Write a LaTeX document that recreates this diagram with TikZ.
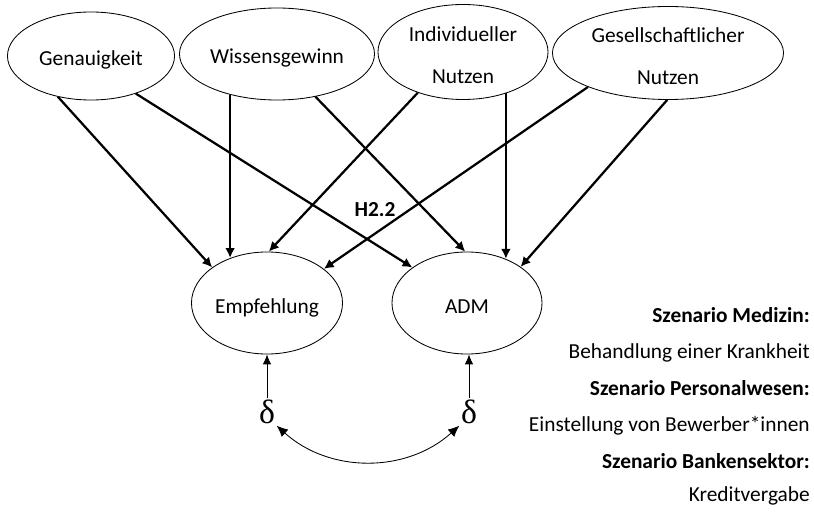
\documentclass[tikz,border=0pt]{standalone}
\usepackage{fontspec}
\setmainfont{Carlito}
\newfontfamily\deltafont{Liberation Serif}
\usetikzlibrary{arrows.meta}
\usetikzlibrary{shapes.geometric}

\begin{document}
\begin{tikzpicture}[x=0.025cm, y=-0.025cm,
  construct/.style={ellipse, draw, line width=0.6pt, inner sep=0pt, align=center, text depth=0pt, font=\fontsize{15.2}{18}\selectfont},
  effect/.style={line width=1.6pt, arrows={-Latex[width=7pt, length=7pt]}},
  residual/.style={line width=0.6pt, arrows={-Latex[width=6pt, length=7pt]}},
  scenario/.style={anchor=base east, inner sep=0pt, font=\fontsize{15.2}{18}\selectfont}]
\useasboundingbox (0,0) rectangle (814,518);
\node[construct, minimum width=4.175cm, minimum height=2.2cm] (gen) at (91,56) {\rule{0pt}{13pt}Genauigkeit};
\node[construct, minimum width=4.875cm, minimum height=2.3cm] (wis) at (277,54) {\rule{0pt}{14pt}Wissensgewinn};
\node[construct, minimum width=4.25cm, minimum height=2.375cm] (ind) at (463,52) {\rule{0pt}{15pt}Individueller\\[12pt]Nutzen};
\node[construct, minimum width=5.775cm, minimum height=2.325cm] (ges) at (668,53) {\rule{0pt}{15pt}Gesellschaftlicher\\[12pt]Nutzen};
\node[construct, minimum width=3.775cm, minimum height=2.55cm] (emp) at (267,303) {\rule{0pt}{15.5pt}Empfehlung};
\node[construct, minimum width=3.75cm, minimum height=2.55cm] (adm) at (467,303) {\rule{0pt}{15.5pt}ADM};
\draw[effect] (gen.-129.2) -- (emp.147.6);
\draw[effect] (gen.-40.4) -- (adm.147.8);
\draw[effect] (wis.-139.4) -- (wis.-139.4 |- emp.129.7);
\draw[effect] (wis.-48.1) -- (adm.92);
\draw[effect] (ind.-138.2) -- (emp.88);
\draw[effect] (ind.-44.5) -- (ind.-44.5 |- adm.49.2);
\draw[effect] (ges.-157.8) -- (emp.31.4);
\draw[effect] (ges.-91) -- (adm.34.3);
\node[font=\fontsize{15.2}{18}\selectfont\bfseries] (h22) at (375,210) {H2.2};
\node[font=\fontsize{24}{28}\deltafont, inner sep=1pt] (d1) at (267,412) {δ};
\node[font=\fontsize{24}{28}\deltafont, inner sep=1pt] (d2) at (469,412) {δ};
\draw[residual] (d1.north) -- (d1.north |- emp.south);
\draw[residual] (d2.north) -- (d2.north |- adm.south);
\draw[residual, arrows={Latex[width=7pt, length=8pt]-Latex[width=7pt, length=8pt]}] (d1.south east) to[bend right=42] (d2.south west);
\node[scenario, font=\fontsize{15.2}{18}\selectfont\bfseries] (s1) at (810,322) {Szenario Medizin:};
\node[scenario] (s1t) at (810,358.5) {Behandlung einer Krankheit};
\node[scenario, font=\fontsize{15.2}{18}\selectfont\bfseries] (s2) at (810,395) {Szenario Personalwesen:};
\node[scenario] (s2t) at (810,431.5) {Einstellung von Bewerber*innen};
\node[scenario, font=\fontsize{15.2}{18}\selectfont\bfseries] (s3) at (810,468) {Szenario Bankensektor:};
\node[scenario] (s3t) at (810,501) {Kreditvergabe};
\end{tikzpicture}
\end{document}
